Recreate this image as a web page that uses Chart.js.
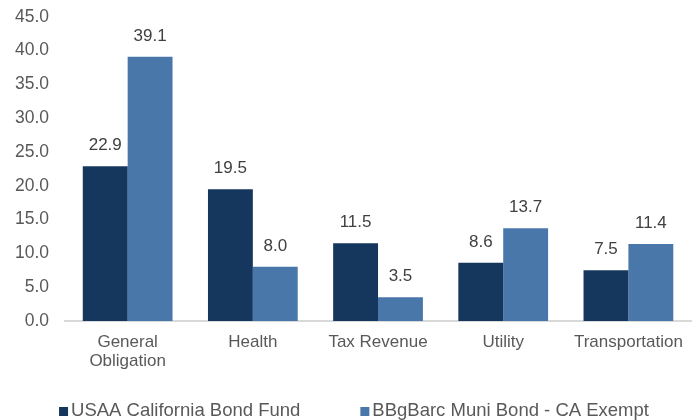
<!DOCTYPE html>
<html>
<head>
<meta charset="utf-8">
<script src="https://cdn.jsdelivr.net/npm/chart.js@4/dist/chart.umd.min.js"></script>
<style>
html,body{margin:0;padding:0;background:#fff;}
#wrap{width:699px;height:420px;position:relative;}
</style>
</head>
<body>
<div id="wrap"><canvas id="c" width="699" height="420"></canvas></div>
<script>
const categories = [["General","Obligation"], "Health", "Tax Revenue", "Utility", "Transportation"];
const seriesNames = ["USAA California Bond Fund", "BBgBarc Muni Bond - CA Exempt"];
const fundValues = [22.9, 19.5, 11.5, 8.6, 7.5];
const indexValues = [39.1, 8.0, 3.5, 13.7, 11.4];
const seriesColors = ['#16375D', '#4A77AA'];
const yMin = 0, yMax = 45, yStep = 5;

const FONT = "'Liberation Sans', Arial, sans-serif";

const labelPlugin = {
  id: 'barLabels',
  afterDatasetsDraw(chart) {
    const ctx = chart.ctx;
    ctx.save();
    ctx.font = "17px " + FONT;
    ctx.fillStyle = "#404040";
    ctx.textAlign = "center";
    ctx.textBaseline = "alphabetic";
    chart.data.datasets.forEach((ds, i) => {
      const meta = chart.getDatasetMeta(i);
      meta.data.forEach((bar, j) => {
        ctx.fillText(ds.data[j].toFixed(1), bar.x, bar.y - 16);
      });
    });
    ctx.restore();
  }
};

const legendPlugin = {
  id: 'bottomLegend',
  afterDraw(chart) {
    const ctx = chart.ctx;
    ctx.save();
    ctx.font = "18.5px " + FONT;
    ctx.textBaseline = "alphabetic";
    ctx.textAlign = "left";
    const box = 9, gap = 3, itemGap = 60;
    const ds = chart.data.datasets;
    const widths = ds.map(d => ctx.measureText(d.label).width);
    let total = 0;
    widths.forEach((w, i) => { total += box + gap + w + (i ? itemGap : 0); });
    let x = 354 - total / 2;
    const baseline = 416;
    ds.forEach((d, i) => {
      ctx.fillStyle = d.backgroundColor;
      ctx.fillRect(x, baseline - box, box, box);
      ctx.fillStyle = '#595959';
      ctx.fillText(d.label, x + box + gap, baseline);
      x += box + gap + widths[i] + itemGap;
    });
    ctx.restore();
  }
};

new Chart(document.getElementById('c'), {
  type: 'bar',
  data: {
    labels: categories,
    datasets: [
      { label: seriesNames[0], data: fundValues, backgroundColor: seriesColors[0], barPercentage: 1, categoryPercentage: 0.717 },
      { label: seriesNames[1], data: indexValues, backgroundColor: seriesColors[1], barPercentage: 1, categoryPercentage: 0.717 }
    ]
  },
  options: {
    responsive: false,
    animation: false,
    devicePixelRatio: 1,
    layout: { padding: { left: -1, right: 8, top: 0, bottom: 37 } },
    plugins: {
      tooltip: { enabled: false },
      legend: { display: false }
    },
    scales: {
      x: {
        grid: { display: false, drawTicks: false },
        border: { display: true, color: '#D9D9D9', width: 2 },
        ticks: { font: { family: FONT, size: 17, lineHeight: 1.12 }, color: '#595959', padding: 12, maxRotation: 0, autoSkip: false }
      },
      y: {
        min: yMin, max: yMax,
        grid: { display: false, drawTicks: false },
        border: { display: false },
        ticks: { stepSize: yStep, font: { family: FONT, size: 17.5, lineHeight: 0.1 }, color: '#595959', padding: 16,
          callback: v => v.toFixed(1) }
      }
    }
  },
  plugins: [labelPlugin, legendPlugin]
});
</script>
</body>
</html>
